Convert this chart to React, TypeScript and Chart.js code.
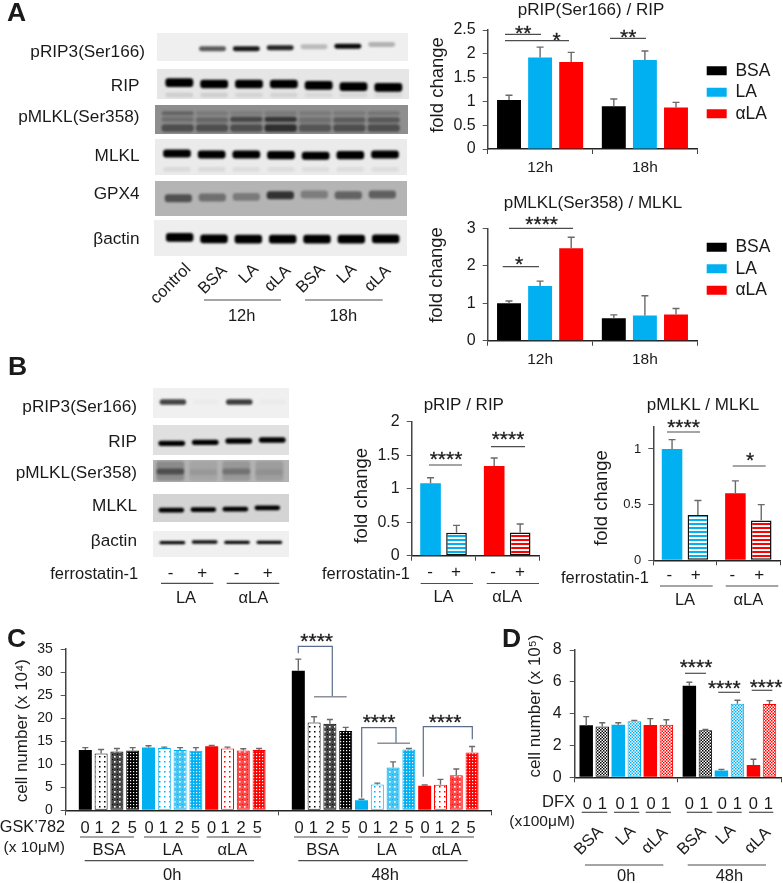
import React, { useEffect, useRef } from "react";
import { Chart, registerables } from "chart.js";
Chart.register(...registerables);

const FONT = "'Liberation Sans', Arial, sans-serif";
const BLACK = "#000000", BLUE = "#00b0f0", RED = "#ff0000";

// ---------- Panel A data
const timeLabels = ["12h", "18h"];
const treatLabels = ["BSA", "LA", "αLA"];
const ripBSA = [1.03, 0.9], ripLA = [1.92, 1.87], ripALA = [1.83, 0.87];
const ripBSATop = [1.13, 1.05], ripLATop = [2.14, 2.06], ripALATop = [2.03, 0.98];
const mlklBSA = [1.0, 0.6], mlklLA = [1.46, 0.67], mlklALA = [2.47, 0.7];
const mlklBSATop = [1.06, 0.69], mlklLATop = [1.59, 1.2], mlklALATop = [2.76, 0.86];
// ---------- Panel B data
const ferroLabels = ["LA", "αLA"];
const bRipMinus = [1.08, 1.338], bRipPlus = [0.343, 0.348];
const bRipMinusTop = [1.164, 1.458], bRipPlusTop = [0.453, 0.473];
const bMlklMinus = [1.0, 0.603], bMlklPlus = [0.406, 0.358];
const bMlklMinusTop = [1.084, 0.713], bMlklPlusTop = [0.537, 0.5];
// ---------- Panel C data (BSA 0 1 2 5, LA 0 1 2 5, αLA 0 1 2 5)
const hourLabels = ["0h", "48h"];
const cells0h = [13.06, 12.34, 12.77, 13.0, 13.6, 13.5, 13.1, 12.9, 13.9, 13.4, 13.0, 13.1];
const cells0hTop = [13.6, 13.2, 13.4, 13.6, 14.0, 13.7, 13.6, 13.6, 14.05, 13.7, 13.35, 13.4];
const cells48h = [30.3, 19.05, 18.8, 17.2, 2.16, 5.6, 9.3, 13.2, 5.3, 5.55, 7.6, 12.55];
const cells48hTop = [32.8, 20.3, 19.7, 18.0, 2.4, 5.9, 10.5, 13.4, 5.5, 6.7, 8.95, 13.85];
// ---------- Panel D data (BSA 0 1, LA 0 1, αLA 0 1)
const dfx0h = [3.27, 3.2, 3.31, 3.52, 3.29, 3.31];
const dfx0hTop = [3.81, 3.43, 3.43, 3.58, 3.69, 3.62];
const dfx48h = [5.76, 2.95, 0.42, 4.63, 0.77, 4.61];
const dfx48hTop = [5.97, 3.0, 0.5, 4.84, 1.13, 4.82];

// ---------- Blot band data (band position along the gel, band darkness per lane)
const aRip3Pos = [148, 148, 148, 145, 142, 140, 135], aRip3Dark = [0, 0.62, 0.9, 0.85, 0.22, 0.96, 0.25];
const aRipPos = [248, 252, 252, 252, 256, 260, 262], aRipDark = [1, 1, 1, 1, 1, 1, 1];
const aRipFaintPos = [285, 285, 285, 285, 285, 285, 285], aRipFaintDark = [0.1, 0.1, 0.08, 0.08, 0.06, 0.06, 0.06];
const aPmlklTopPos = [340, 340, 340, 340, 340, 340, 340], aPmlklTopDark = [0.3, 0.15, 0.12, 0.15, 0.15, 0.15, 0.18];
const aPmlklMidPos = [358, 360, 358, 358, 360, 360, 360], aPmlklMidDark = [0.22, 0.28, 0.5, 0.62, 0.22, 0.35, 0.38];
const aPmlklLowPos = [384, 384, 384, 384, 384, 384, 384], aPmlklLowDark = [0.45, 0.45, 0.45, 0.68, 0.4, 0.45, 0.45];
const aMlklPos = [460, 463, 463, 465, 467, 465, 463], aMlklDark = [1, 1, 1, 1, 1, 1, 1];
const aMlklFaintPos = [507, 507, 507, 507, 507, 507, 507], aMlklFaintDark = [0.07, 0.07, 0.06, 0.06, 0.06, 0.06, 0.06];
const aGpxPos = [594, 592, 590, 585, 583, 585, 583], aGpxDark = [0.55, 0.38, 0.32, 0.72, 0.3, 0.45, 0.47];
const aActinPos = [713, 717, 718, 718, 718, 718, 717], aActinDark = [1, 1, 1, 1, 1, 1, 1];
const bRip3Pos = [82, 82, 82, 82], bRip3Dark = [0.72, 0.02, 0.75, 0.02];
const bRipPos = [205, 202, 198, 195], bRipDark = [1, 1, 1, 1];
const bPmlklPos = [290, 292, 290, 292], bPmlklDark = [0.45, 0.08, 0.25, 0.08];
const bPmlklBackPos = [288, 288, 288, 288], bPmlklBackDark = [0.22, 0.08, 0.15, 0.12];
const bMlklPos = [405, 403, 402, 398], bMlklDark = [1, 1, 1, 1];
const bActinPos = [502, 500, 501, 501], bActinDark = [0.98, 0.95, 0.98, 0.98];

// ---------- Text labels
const aBlotNames: [string, number][] = [["pRIP3(Ser166)", 51.7], ["RIP", 86], ["pMLKL(Ser358)", 117.3], ["MLKL", 155.7], ["GPX4", 194], ["βactin", 238.7]];
const bBlotNames: [string, number][] = [["pRIP3(Ser166)", 406.7], ["RIP", 441.7], ["pMLKL(Ser358)", 473.3], ["MLKL", 506], ["βactin", 540.7]];

type Band = { pos: number[]; dark: number[]; th: number };
type BlotSpec = { ox: number; oy: number; rect: number[]; bg: string; first: number; step: number; bands: Band[]; bar?: number };
const blots: BlotSpec[] = [
  { ox: 0, oy: 0, rect: [470, 100, 1224, 185], bg: "#efefef", first: 535, step: 101.5, bands: [{ pos: aRip3Pos, dark: aRip3Dark, th: 15 }] },
  { ox: 0, oy: 0, rect: [470, 207, 1226, 297], bg: "#e6e6e6", first: 537, step: 104.5, bands: [{ pos: aRipFaintPos, dark: aRipFaintDark, th: 14 }, { pos: aRipPos, dark: aRipDark, th: 26 }] },
  { ox: 0, oy: 0, rect: [465, 315, 1224, 402], bg: "#8e8e8e", first: 533, step: 103, bar: 0.94, bands: [{ pos: aPmlklTopPos, dark: aPmlklTopDark, th: 12 }, { pos: aPmlklMidPos, dark: aPmlklMidDark, th: 16 }, { pos: aPmlklLowPos, dark: aPmlklLowDark, th: 22 }] },
  { ox: 0, oy: 0, rect: [465, 417, 1222, 524], bg: "#ebebeb", first: 531, step: 104, bands: [{ pos: aMlklFaintPos, dark: aMlklFaintDark, th: 14 }, { pos: aMlklPos, dark: aMlklDark, th: 24 }] },
  { ox: 0, oy: 0, rect: [465, 542, 1222, 648], bg: "#b4b4b4", first: 535, step: 102, bands: [{ pos: aGpxPos, dark: aGpxDark, th: 24 }] },
  { ox: 0, oy: 0, rect: [462, 661, 1222, 768], bg: "#eeeeee", first: 539, step: 103, bands: [{ pos: aActinPos, dark: aActinDark, th: 26 }] },
  { ox: 0, oy: 375, rect: [458, 40, 865, 130], bg: "#f0f0f0", first: 518, step: 100, bands: [{ pos: bRip3Pos, dark: bRip3Dark, th: 17 }] },
  { ox: 0, oy: 375, rect: [458, 150, 865, 240], bg: "#e0e0e0", first: 515, step: 102, bands: [{ pos: bRipPos, dark: bRipDark, th: 16 }] },
  { ox: 0, oy: 375, rect: [458, 255, 865, 322], bg: "#b3b3b3", first: 510, step: 99, bar: 0.85, bands: [{ pos: bPmlklBackPos, dark: bPmlklBackDark, th: 60 }, { pos: bPmlklPos, dark: bPmlklDark, th: 18 }] },
  { ox: 0, oy: 375, rect: [458, 357, 865, 440], bg: "#d4d4d4", first: 513, step: 96, bands: [{ pos: bMlklPos, dark: bMlklDark, th: 14 }] },
  { ox: 0, oy: 375, rect: [458, 467, 865, 545], bg: "#f0f0f0", first: 516, step: 97, bands: [{ pos: bActinPos, dark: bActinDark, th: 10 }] },
];

function shade(d: number) {
  return `rgba(0,0,0,${d})`;
}

function pattern(kind: string, color: string): CanvasPattern | string {
  const c = document.createElement("canvas");
  const size = kind === "stripe" ? 4 : kind === "dots" ? 5 : kind === "lattice" ? 5 : 3;
  c.width = size; c.height = size;
  const x = c.getContext("2d")!;
  x.fillStyle = "#fff"; x.fillRect(0, 0, size, size);
  x.fillStyle = color;
  if (kind === "stripe") { x.fillRect(0, 0, 4, 2); }
  if (kind === "dots") { x.fillRect(2, 2, 1.5, 1.5); }
  if (kind === "lattice") {
    x.globalAlpha = 0.72; x.fillRect(0, 0, 5, 5);
    x.globalAlpha = 1; x.fillStyle = "#fff"; x.fillRect(2, 2, 1.6, 1.6);
    x.fillStyle = color; x.fillRect(0, 0, 1, 1);
  }
  if (kind === "dense") { x.fillRect(0, 0, 3, 3); x.fillStyle = "#fff"; x.fillRect(1, 1, 1.2, 1.2); }
  if (kind === "fine") { x.fillRect(0, 0, 1.5, 1.5); x.fillRect(1.5, 1.5, 1.5, 1.5); }
  return x.createPattern(c, "repeat")!;
}

const errorPlugin = {
  id: "errorTops",
  afterDatasetsDraw(chart: any, _a: any, opts: any) {
    const { ctx } = chart;
    const y = chart.scales.y;
    ctx.save();
    ctx.strokeStyle = "#6a6a6a";
    ctx.lineWidth = 1.4;
    chart.data.datasets.forEach((ds: any, di: number) => {
      chart.getDatasetMeta(di).data.forEach((el: any, i: number) => {
        const t = y.getPixelForValue(ds.tops[i]);
        ctx.beginPath();
        ctx.moveTo(el.x, el.y);
        ctx.lineTo(el.x, t);
        ctx.moveTo(el.x - opts.cap / 2, t);
        ctx.lineTo(el.x + opts.cap / 2, t);
        ctx.stroke();
      });
    });
    ctx.restore();
  },
};

const placePlugin = {
  id: "place",
  beforeLayout(chart: any, _a: any, opts: any) {
    const lg = chart.legend;
    if (lg && opts.legendW && !lg.__wrapped) {
      lg.__wrapped = true;
      const fit = lg.fit.bind(lg);
      lg.fit = () => { fit(); lg.width = opts.legendW; };
    }
  },
  afterLayout(chart: any, _a: any, opts: any) {
    if (opts.titleCx != null && chart.titleBlock) {
      chart.titleBlock.left = opts.titleCx - 200;
      chart.titleBlock.right = opts.titleCx + 200;
    }
    if (opts.legendW && chart.legend) {
      chart.legend.left = opts.legendX;
      chart.legend.top = opts.legendY;
    }
    const s = chart.scales.y;
    if (s && opts.titleDy && !s.__shifted) {
      s.__shifted = true;
      const d = s.drawTitle.bind(s);
      s.drawTitle = () => { chart.ctx.save(); chart.ctx.translate(0, opts.titleDy); d(); chart.ctx.restore(); };
    }
  },
};

type Spec = {
  L: number; R: number; T: number; B: number; max: number; step: number; tickSize: number; tickPad: number;
  yTitle: string; yTitleX: number; yTitleSize: number; yTitleDy: number;
  title?: string; titleCx?: number; titleCy?: number; titleSize?: number;
  labels: string[]; datasets: () => any[]; xCy: number; xSize: number;
  bar: number; cat: number; cap: number; legend?: { x: number; firstRow: number };
};

function BarPanel({ s }: { s: Spec }) {
  const ref = useRef<HTMLCanvasElement | null>(null);
  const lh = s.yTitleSize * 1.2;
  const left = Math.round(s.yTitleX - lh / 2);
  const W = s.L - left;
  const tSize = s.titleSize ?? 17;
  const top = s.title ? Math.round(s.titleCy! - tSize / 2 - 2) : Math.round(s.T - 20);
  const xH = s.xCy - s.B + 14;
  const legendW = s.legend ? 783 - s.R : 0;
  const rightPad = s.legend ? 0 : 3;
  const width = Math.ceil(W + (s.R - s.L) + legendW + rightPad);
  const height = Math.ceil(s.B + xH - top);
  useEffect(() => {
    const legendPad = 4;
    const chart = new Chart(ref.current!, {
      type: "bar",
      data: { labels: s.labels, datasets: s.datasets() },
      plugins: [errorPlugin, placePlugin],
      options: {
        animation: false, responsive: false, devicePixelRatio: 1,
        layout: { padding: { top: s.title ? 0 : s.T - top, right: width - W - (s.R - s.L) - legendW, left: 0, bottom: height - xH - (s.B - top) } },
        datasets: { bar: { barPercentage: s.bar, categoryPercentage: s.cat } },
        scales: {
          x: {
            grid: { drawOnChartArea: false, drawTicks: true, tickLength: 5, color: "#444", offset: true },
            border: { color: "#222", width: 1.5 },
            ticks: { autoSkip: false, maxRotation: 0, minRotation: 0, padding: s.xCy - s.B - 5 - (s.xSize * 1.2) / 2, color: "#1a1a1a", font: { family: FONT, size: s.xSize } },
            afterFit: (a: any) => { a.height = xH; a.paddingLeft = 0; a.paddingRight = 0; },
          },
          y: {
            min: 0, max: s.max,
            grid: { drawOnChartArea: false, drawTicks: true, tickLength: 5, color: "#555" },
            border: { color: "#444", width: 1.5 },
            ticks: { stepSize: s.step, includeBounds: false, padding: s.tickPad, color: "#1a1a1a", font: { family: FONT, size: s.tickSize }, callback: (v: any) => String(v) },
            title: { display: true, text: s.yTitle, color: "#1a1a1a", padding: 0, font: { family: FONT, size: s.yTitleSize } },
            afterFit: (a: any) => { a.width = W; },
          },
        },
        plugins: {
          errorTops: { cap: s.cap },
          place: {
            titleCx: s.title ? s.titleCx! - left : null, titleDy: s.yTitleDy, legendW,
            legendX: s.legend ? s.legend.x - left - legendPad : 0,
            legendY: s.legend ? s.legend.firstRow - top - legendPad - 8.75 : 0,
          },
          tooltip: { enabled: false },
          title: s.title
            ? { display: true, text: s.title, color: "#1a1a1a", padding: { top: 2, bottom: s.T - top - 2 - tSize }, font: { family: FONT, size: tSize, weight: "normal", lineHeight: 1 } }
            : { display: false },
          legend: s.legend
            ? { display: true, position: "right", align: "start", labels: { boxWidth: 20, boxHeight: 9, padding: legendPad, color: "#1a1a1a", font: { family: FONT, size: 17.5 } } }
            : { display: false },
        },
      } as any,
    });
    return () => chart.destroy();
  }, []);
  return <canvas ref={ref} width={width} height={height} style={{ position: "absolute", left, top, width, height }} />;
}

function Blot({ b }: { b: BlotSpec }) {
  const ref = useRef<HTMLCanvasElement | null>(null);
  const [x0, y0, x1, y1] = b.rect;
  const left = b.ox + x0 / 3, top = b.oy + y0 / 3;
  const width = Math.round((x1 - x0) / 3), height = Math.round((y1 - y0) / 3);
  useEffect(() => {
    const n = b.bands[0].pos.length;
    const padL = (b.first - b.step / 2 - x0) / 3;
    const padR = Math.max(0, width - padL - (n * b.step) / 3);
    const chart = new Chart(ref.current!, {
      type: "bar",
      data: {
        labels: b.bands[0].pos.map((_, i) => `lane ${i + 1}`),
        datasets: b.bands.map((band) => ({
          data: band.pos.map((p) => [p - band.th / 2, p + band.th / 2]),
          backgroundColor: band.dark.map(shade),
          grouped: false, borderRadius: 3, borderSkipped: false,
          barPercentage: b.bar ?? 0.8, categoryPercentage: 1,
        })),
      },
      options: {
        animation: false, responsive: false, devicePixelRatio: 1,
        layout: { padding: { left: padL, right: padR, top: 0, bottom: 0 } },
        scales: {
          x: { display: false },
          y: { display: false, reverse: true, min: y0, max: y1 },
        },
        plugins: { legend: { display: false }, tooltip: { enabled: false } },
      } as any,
    });
    return () => chart.destroy();
  }, []);
  return (
    <div style={{ position: "absolute", left, top, width, height, background: b.bg, overflow: "hidden" }}>
      <canvas ref={ref} width={width} height={height} style={{ width, height, display: "block", filter: "blur(1px)" }} />
    </div>
  );
}

function solid(label: string, data: number[], tops: number[], color: string) {
  return { label, data, tops, backgroundColor: color, borderWidth: 0 };
}
const ripSets = () => [solid("BSA", ripBSA, ripBSATop, BLACK), solid("LA", ripLA, ripLATop, BLUE), solid("αLA", ripALA, ripALATop, RED)];
const mlklSets = () => [solid("BSA", mlklBSA, mlklBSATop, BLACK), solid("LA", mlklLA, mlklLATop, BLUE), solid("αLA", mlklALA, mlklALATop, RED)];
function ferroSets(minus: number[], plus: number[], minusTop: number[], plusTop: number[]) {
  return () => [
    { label: "-", data: minus, tops: minusTop, backgroundColor: [BLUE, RED], borderWidth: 0 },
    { label: "+", data: plus, tops: plusTop, backgroundColor: [pattern("stripe", BLUE), pattern("stripe", RED)], borderColor: "#111", borderWidth: 1.5, borderSkipped: false },
  ];
}
const cKinds = ["solid", "dots", "lattice", "dense"];
const cColors = [BLACK, BLUE, RED];
const cSets = () => cells0h.map((_, i) => {
  const color = cColors[Math.floor(i / 4)], kind = cKinds[i % 4];
  return {
    label: `${treatLabels[Math.floor(i / 4)]} ${[0, 1, 2, 5][i % 4]}`,
    data: [cells0h[i], cells48h[i]], tops: [cells0hTop[i], cells48hTop[i]],
    backgroundColor: kind === "solid" ? color : pattern(kind, color),
    borderColor: color, borderWidth: kind === "solid" ? 0 : 1, borderSkipped: false,
  };
});
const dSets = () => dfx0h.map((_, i) => {
  const color = cColors[Math.floor(i / 2)];
  return {
    label: `${treatLabels[Math.floor(i / 2)]} ${i % 2}`,
    data: [dfx0h[i], dfx48h[i]], tops: [dfx0hTop[i], dfx48hTop[i]],
    backgroundColor: i % 2 === 0 ? color : pattern("fine", color),
    borderColor: color, borderWidth: i % 2 === 0 ? 0 : 1, borderSkipped: false,
  };
});

const panels: Spec[] = [
  { L: 487.7, R: 697.3, T: 30, B: 149, max: 2.5, step: 0.5, tickSize: 16, tickPad: 7, yTitle: "fold change", yTitleX: 438, yTitleSize: 18.5, yTitleDy: -4.5,
    title: "pRIP(Ser166) / RIP", titleCx: 591, titleCy: 10, labels: timeLabels, datasets: ripSets, xCy: 168, xSize: 15.5, bar: 0.77, cat: 0.89, cap: 7, legend: { x: 706.7, firstRow: 70.7 } },
  { L: 487.7, R: 697.3, T: 228.3, B: 340.7, max: 3, step: 1, tickSize: 16, tickPad: 7, yTitle: "fold change", yTitleX: 437, yTitleSize: 18.5, yTitleDy: -9.5,
    title: "pMLKL(Ser358) / MLKL", titleCx: 593, titleCy: 203, labels: timeLabels, datasets: mlklSets, xCy: 360, xSize: 15.5, bar: 0.77, cat: 0.89, cap: 7, legend: { x: 706.7, firstRow: 247.3 } },
  { L: 411.7, R: 539, T: 421.7, B: 555.7, max: 2, step: 0.5, tickSize: 16, tickPad: 7, yTitle: "fold change", yTitleX: 361.7, yTitleSize: 18.5, yTitleDy: 7,
    title: "pRIP / RIP", titleCx: 463.8, titleCy: 405, labels: ferroLabels, datasets: ferroSets(bRipMinus, bRipPlus, bRipMinusTop, bRipPlusTop), xCy: 597, xSize: 16.5, bar: 0.795, cat: 0.816, cap: 7 },
  { L: 653.3, R: 780, T: 426.7, B: 560.3, max: 1.2, step: 0.5, tickSize: 13, tickPad: 7, yTitle: "fold change", yTitleX: 601.7, yTitleSize: 18.5, yTitleDy: 4.5,
    title: "pMLKL / MLKL", titleCx: 703, titleCy: 405, labels: ferroLabels, datasets: ferroSets(bMlklMinus, bMlklPlus, bMlklMinusTop, bMlklPlusTop), xCy: 600, xSize: 16.5, bar: 0.795, cat: 0.816, cap: 7 },
  { L: 65.7, R: 491.7, T: 649, B: 810.3, max: 35, step: 5, tickSize: 14, tickPad: 8, yTitle: "cell number (x 10⁴)", yTitleX: 22, yTitleSize: 17, yTitleDy: 1,
    labels: hourLabels, datasets: cSets, xCy: 875, xSize: 16.5, bar: 0.824, cat: 0.89, cap: 6 },
  { L: 574.7, R: 781, T: 650, B: 777.3, max: 8, step: 2, tickSize: 16, tickPad: 8, yTitle: "cell number (x 10⁵)", yTitleX: 535, yTitleSize: 17, yTitleDy: -7.6,
    labels: hourLabels, datasets: dSets, xCy: 876.7, xSize: 16.5, bar: 0.84, cat: 0.932, cap: 6 },
];

type Txt = [string, number, number, number?, number?, string?]; // text, x, y, size, rotate, align
const texts: Txt[] = [
  // Panel A blot labels
  ["control", 170, 283.3, 16.5, -45], ["BSA", 212.3, 279.3, 16.5, -45], ["LA", 248.3, 273.3, 16.5, -45], ["αLA", 276.7, 277.7, 16.5, -45],
  ["BSA", 310, 278.3, 16.5, -45], ["LA", 345.7, 273.3, 16.5, -45], ["αLA", 376.7, 277.7, 16.5, -45],
  ["12h", 241.7, 315, 16.5], ["18h", 343.3, 315, 16.5],
  // Panel B ferrostatin
  ["ferrostatin-1", 138.3, 573.3, 16.5, 0, "r"], ["-", 170.7, 572, 17], ["+", 202.3, 572, 17], ["-", 236.7, 572, 17], ["+", 267.7, 572, 17],
  ["LA", 186, 596.7, 16.5], ["αLA", 253.3, 596.7, 16.5],
  ["ferrostatin-1", 410, 573, 16.5, 0, "r"], ["-", 430, 571, 17], ["+", 456, 571, 17], ["-", 493, 571, 17], ["+", 520, 571, 17],
  ["ferrostatin-1", 649, 577, 16.5, 0, "r"], ["-", 669.3, 574, 17], ["+", 695.7, 574, 17], ["-", 732.3, 574, 17], ["+", 759.3, 574, 17],
  // Panel C axis labels
  ["GSK’782", 65, 825.7, 16.3, 0, "r"], ["(x 10μM)", 65, 846.7, 15.5, 0, "r"],
  ["BSA", 109, 849, 16.5], ["LA", 172.7, 849, 16.5], ["αLA", 232.3, 849, 16.5],
  ["BSA", 322.7, 849, 16.5], ["LA", 386.7, 849, 16.5], ["αLA", 446.7, 849, 16.5],
  // Panel D axis labels
  ["DFX", 575, 801, 16.5, 0, "r"], ["(x100μM)", 575, 820.7, 15.5, 0, "r"],
  ["BSA", 588.3, 840, 16.5, -45], ["LA", 625, 835, 16.5, -45], ["αLA", 654, 840, 16.5, -45],
  ["BSA", 690.7, 840, 16.5, -45], ["LA", 725, 834.3, 16.5, -45], ["αLA", 757.3, 840, 16.5, -45],
];
const cDoseX = [85, 99, 115.7, 132.3, 149, 163.3, 179.3, 195.7, 211.7, 225, 241, 257.3, 299, 313.3, 330, 346, 363, 377.3, 393.7, 409.3, 425, 439.3, 455.3, 471];
const cDoseLabels = ["0", "1", "2", "5"];
const dDoseX = [587.3, 602.3, 620, 634.3, 651, 665.7, 689.3, 704, 722.3, 737.3, 753.3, 768.3];
const stars: [string, number, number][] = [
  ["**", 523.3, 30], ["*", 556.7, 37.3], ["**", 628.3, 34], ["****", 541.7, 221.7], ["*", 519, 261.7],
  ["****", 446, 456], ["****", 508, 436], ["****", 683.5, 424], ["*", 750, 457.7],
  ["****", 316.7, 638.3], ["****", 379, 719], ["****", 445, 719.7],
  ["****", 696, 664.3], ["****", 724.3, 685], ["****", 766, 684],
];
const letters: [string, number, number][] = [["A", 7, 12], ["B", 8, 366], ["C", 7, 638], ["D", 502, 638]];
const grayLines: number[][] = [
  [505, 34.3, 541, 34.3], [505, 40.7, 569, 40.7], [610, 38.3, 646, 38.3], [509, 228.3, 573, 228.3], [502.7, 266.7, 539, 266.7],
  [204, 300, 281, 300], [305, 300, 382.7, 300],
  [429, 465, 462, 465], [491, 446.7, 525, 446.7], [667, 432, 700, 432], [732.7, 466, 765.7, 466],
  [161, 583.3, 213.3, 583.3], [226.7, 583.3, 279.3, 583.3],
  [420.7, 583.5, 473, 583.5], [486.7, 583.5, 539, 583.5], [660, 586, 712.7, 586], [725.7, 586, 778.3, 586],
  [80, 837, 134, 837], [144, 837, 198.7, 837], [206.7, 837, 260.7, 837], [84.7, 860.7, 254, 860.7],
  [294, 837, 348, 837], [358, 837, 412, 837], [420, 837, 474, 837], [298.3, 860.7, 467.7, 860.7],
  [581.7, 812.3, 607.3, 812.3], [614, 812.3, 639.3, 812.3], [645.7, 812.3, 671, 812.3], [686.7, 812.3, 712.3, 812.3], [716.7, 812.3, 741.7, 812.3], [749, 812.3, 773.3, 812.3],
  [585, 865, 663.3, 865], [687.7, 865, 766, 865],
  [685, 673.3, 706, 673.3], [718.3, 692.3, 740, 692.3], [751.7, 690.3, 772.3, 690.3],
];
const brackets: string[] = [
  "298.3,653.3 298.3,646.3 332.3,646.3 332.3,696.7",
  "361.7,797.7 361.7,727.7 396,727.7 396,743.3",
  "423.3,776.7 423.3,726.7 472.3,726.7 472.3,739.3",
];
const bracketBars: number[][] = [[314, 696.7, 346.7, 696.7], [377.3, 743.3, 410, 743.3]];

function T({ t, x, y, size = 16.5, rot = 0, align = "c", weight = "normal", stroke = 0 }: any) {
  const ax = align === "r" ? "-100%" : align === "l" ? "0" : "-50%";
  return (
    <div style={{ position: "absolute", left: x, top: y, transform: `translate(${ax},-50%) rotate(${rot}deg)`, fontFamily: FONT, fontSize: size, fontWeight: weight, lineHeight: 1, whiteSpace: "nowrap", color: "#1a1a1a", WebkitTextStroke: stroke ? `${stroke}px #1a1a1a` : undefined }}>
      {t}
    </div>
  );
}

export default function App() {
  return (
    <div style={{ position: "absolute", left: 0, top: 0, width: 783, height: 883, background: "#fff", overflow: "hidden" }}>
      {blots.map((b, i) => <Blot key={i} b={b} />)}
      {panels.map((s, i) => <BarPanel key={i} s={s} />)}
      <svg width={783} height={883} style={{ position: "absolute", left: 0, top: 0 }}>
        {grayLines.map((l, i) => <line key={i} x1={l[0]} y1={l[1]} x2={l[2]} y2={l[3]} stroke="#4d4d4d" strokeWidth={1.2} />)}
        {brackets.map((p, i) => <polyline key={i} points={p} fill="none" stroke="#5b6d8c" strokeWidth={1.2} />)}
        {bracketBars.map((l, i) => <line key={i} x1={l[0]} y1={l[1]} x2={l[2]} y2={l[3]} stroke="#8a8f99" strokeWidth={1.4} />)}
      </svg>
      {aBlotNames.map(([t, y], i) => <T key={i} t={t} x={i === 0 ? 145 : 139.5} y={y} size={17.2} align="r" />)}
      {bBlotNames.map(([t, y], i) => <T key={i} t={t} x={137} y={y} size={17.2} align="r" />)}
      {texts.map(([t, x, y, size, rot, a], i) => <T key={i} t={t} x={x} y={y} size={size} rot={rot} align={a === "r" ? "r" : "c"} />)}
      {cDoseX.map((x, i) => <T key={i} t={cDoseLabels[i % 4]} x={x} y={826.7} size={16.5} />)}
      {dDoseX.map((x, i) => <T key={i} t={String(i % 2)} x={x} y={802.7} size={16.5} />)}
      {stars.map(([t, x, y], i) => <T key={i} t={t} x={x} y={y + 1.5} size={21} stroke={0.3} />)}
      {letters.map(([t, x, y], i) => <T key={i} t={t} x={x} y={y} size={26.5} align="l" weight="bold" />)}
    </div>
  );
}
